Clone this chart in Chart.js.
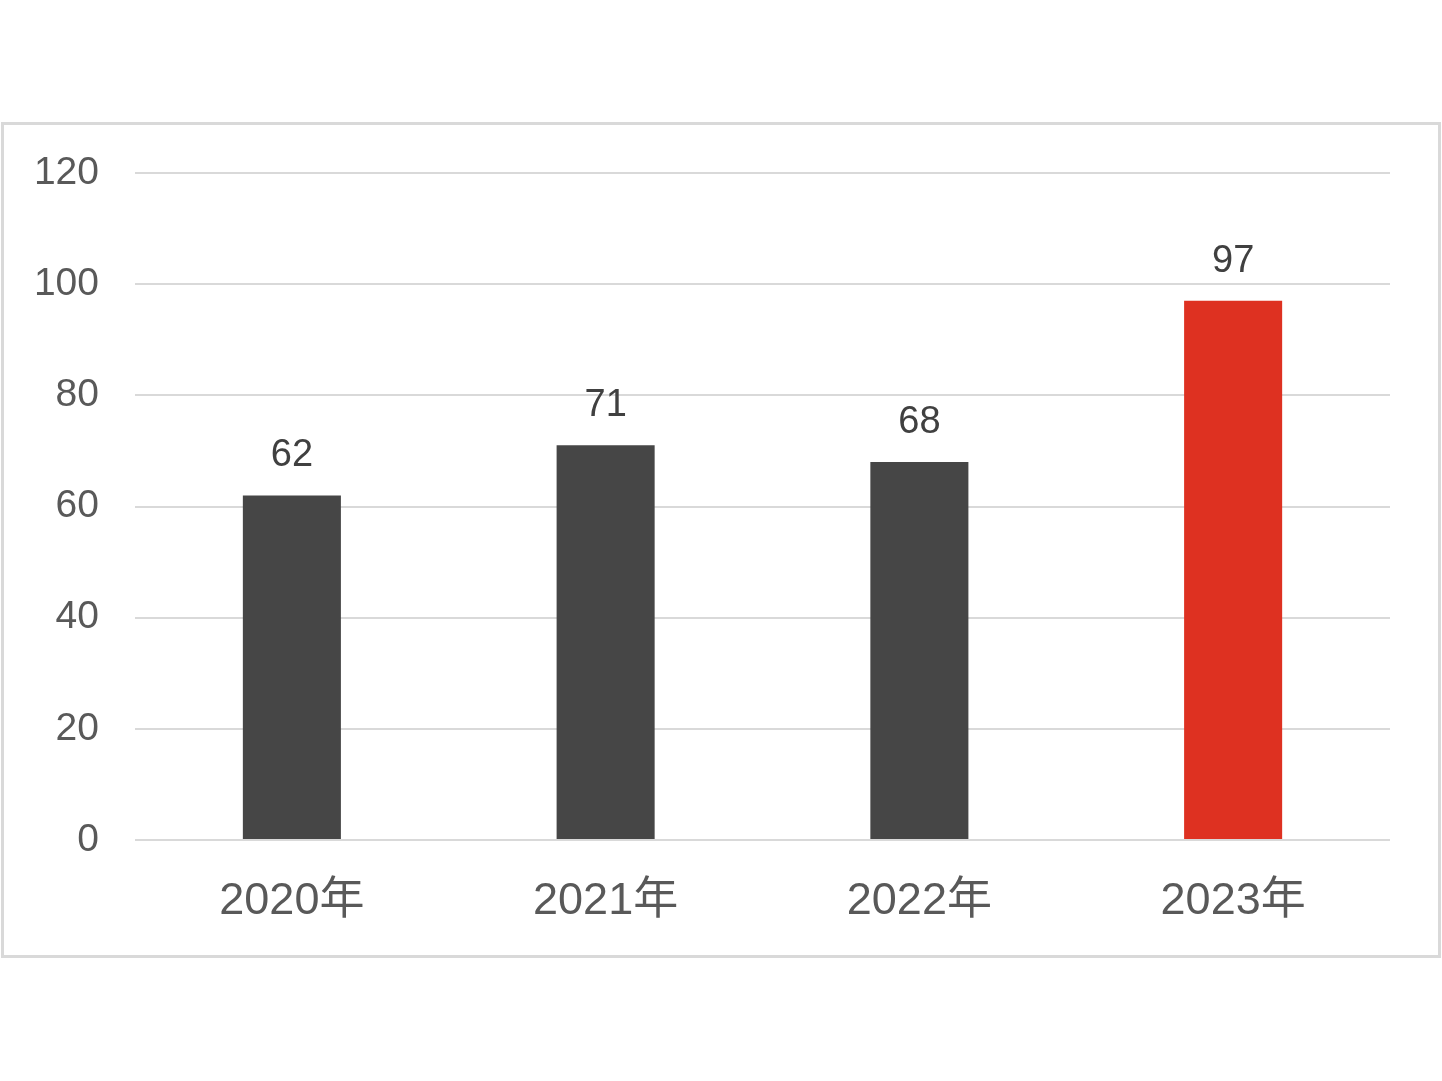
<!DOCTYPE html>
<html>
<head>
<meta charset="utf-8">
<script src="https://cdn.jsdelivr.net/npm/chart.js@4"></script>
<style>
  html, body { margin: 0; padding: 0; background: #fff; }
  #wrap { width: 1442px; height: 1081px; position: relative; }
</style>
</head>
<body>
<div id="wrap"><canvas id="chart" width="1442" height="1081"></canvas></div>
<script>
// данные графика
const categories = ['2020年', '2021年', '2022年', '2023年'];
const values = [62, 71, 68, 97];
const barColors = ['#464646', '#464646', '#464646', '#de3121'];
const yTicks = [0, 20, 40, 60, 80, 100, 120];

const FONT = '"Liberation Sans", Arial, "Noto Sans CJK SC", sans-serif';

// рамка вокруг графика
const framePlugin = {
    id: 'frame',
    beforeDraw(chart) {
        const ctx = chart.ctx;
        ctx.save();
        ctx.fillStyle = '#ffffff';
        ctx.fillRect(0, 0, chart.width, chart.height);
        ctx.strokeStyle = '#d9d9d9';
        ctx.lineWidth = 3;
        ctx.strokeRect(2.5, 123.5, 1437, 833);
        ctx.restore();
    }
};

// подписи значений над столбцами
const valueLabels = {
    id: 'valueLabels',
    afterDatasetsDraw(chart) {
        const ctx = chart.ctx;
        const meta = chart.getDatasetMeta(0);
        ctx.save();
        ctx.fillStyle = '#404040';
        ctx.font = '38px ' + FONT;
        ctx.textAlign = 'center';
        ctx.textBaseline = 'alphabetic';
        meta.data.forEach((bar, i) => {
            ctx.fillText(String(values[i]), bar.x, bar.y - 29);
        });
        ctx.restore();
    }
};

const ctx = document.getElementById('chart').getContext('2d');
new Chart(ctx, {
    type: 'bar',
    data: {
        labels: categories,
        datasets: [{
            data: values,
            backgroundColor: barColors,
            borderWidth: 0,
            categoryPercentage: 1,
            barPercentage: 0.3125
        }]
    },
    options: {
        responsive: false,
        animation: false,
        layout: { padding: { top: 173, right: 52, left: 0, bottom: 0 } },
        plugins: { legend: { display: false }, tooltip: { enabled: false } },
        scales: {
            x: {
                grid: { display: false, drawTicks: false },
                border: { display: false },
                ticks: { color: '#595959', font: { size: 45, family: FONT }, padding: 35 },
                afterFit(scale) { scale.height = 241; }
            },
            y: {
                min: 0,
                max: 120,
                afterBuildTicks(scale) { scale.ticks = yTicks.map(v => ({ value: v })); },
                grid: { color: '#d9d9d9', lineWidth: 2, drawTicks: false },
                border: { display: false },
                ticks: { color: '#595959', font: { size: 39, family: FONT }, padding: 36 },
                afterFit(scale) { scale.width = 135; }
            }
        }
    },
    plugins: [framePlugin, valueLabels]
});
</script>
</body>
</html>
